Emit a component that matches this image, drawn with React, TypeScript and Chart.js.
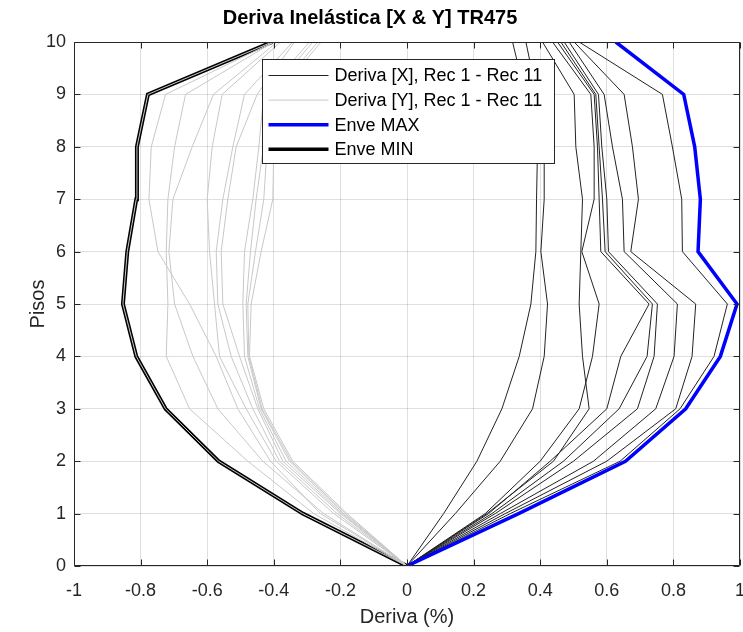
import React, { useEffect, useRef } from 'react';
import { Chart, registerables } from 'chart.js';

Chart.register(...registerables);

// Floors (Pisos)
const floors = [0, 1, 2, 3, 4, 5, 6, 7, 8, 9, 10];

// Deriva [X], Rec 1 - Rec 11 (%)
const xRec1 = [0, 0.11, 0.21, 0.285, 0.337, 0.372, 0.387, 0.389, 0.392, 0.355, 0.317];
const xRec2 = [0, 0.145, 0.28, 0.377, 0.412, 0.422, 0.402, 0.412, 0.412, 0.39, 0.357];
const xRec3 = [0, 0.24, 0.44, 0.547, 0.527, 0.517, 0.522, 0.527, 0.507, 0.502, 0.407];
const xRec4 = [0, 0.235, 0.4, 0.517, 0.557, 0.577, 0.525, 0.562, 0.562, 0.552, 0.437];
const xRec5 = [0, 0.245, 0.43, 0.6, 0.642, 0.727, 0.582, 0.577, 0.572, 0.562, 0.452];
const xRec6 = [0, 0.255, 0.47, 0.637, 0.721, 0.737, 0.595, 0.587, 0.577, 0.567, 0.462];
const xRec7 = [0, 0.265, 0.5, 0.692, 0.742, 0.752, 0.605, 0.6, 0.585, 0.575, 0.472];
const xRec8 = [0, 0.28, 0.56, 0.747, 0.802, 0.812, 0.652, 0.647, 0.617, 0.592, 0.487];
const xRec9 = [0, 0.295, 0.6, 0.807, 0.856, 0.867, 0.672, 0.695, 0.677, 0.652, 0.502];
const xRec10 = [0, 0.31, 0.64, 0.82, 0.922, 0.962, 0.827, 0.825, 0.797, 0.767, 0.517];
const xRec11 = [0, 0.335, 0.656, 0.837, 0.941, 0.991, 0.874, 0.881, 0.864, 0.831, 0.627];

// Deriva [Y], Rec 1 - Rec 11 (%)
const yRec1 = [0, -0.313, -0.566, -0.725, -0.813, -0.853, -0.84, -0.813, -0.811, -0.778, -0.405];
const yRec2 = [0, -0.28, -0.478, -0.653, -0.723, -0.718, -0.723, -0.718, -0.698, -0.665, -0.4];
const yRec3 = [0, -0.26, -0.41, -0.508, -0.573, -0.653, -0.748, -0.775, -0.768, -0.725, -0.4];
const yRec4 = [0, -0.25, -0.433, -0.568, -0.643, -0.698, -0.715, -0.703, -0.645, -0.581, -0.39];
const yRec5 = [0, -0.22, -0.393, -0.483, -0.563, -0.578, -0.593, -0.6, -0.585, -0.555, -0.38];
const yRec6 = [0, -0.21, -0.383, -0.463, -0.528, -0.568, -0.573, -0.553, -0.523, -0.488, -0.343];
const yRec7 = [0, -0.2, -0.373, -0.448, -0.503, -0.553, -0.558, -0.538, -0.513, -0.45, -0.338];
const yRec8 = [0, -0.195, -0.363, -0.443, -0.488, -0.493, -0.488, -0.463, -0.445, -0.43, -0.293];
const yRec9 = [0, -0.19, -0.353, -0.438, -0.478, -0.483, -0.47, -0.453, -0.431, -0.415, -0.283];
const yRec10 = [0, -0.185, -0.348, -0.435, -0.475, -0.478, -0.455, -0.43, -0.42, -0.4, -0.268];
const yRec11 = [0, -0.18, -0.343, -0.43, -0.473, -0.468, -0.438, -0.403, -0.4, -0.39, -0.258];

// Envelopes
const enveMax = [0, 0.335, 0.656, 0.837, 0.941, 0.991, 0.874, 0.881, 0.864, 0.831, 0.627];
const enveMin = [0, -0.313, -0.566, -0.725, -0.813, -0.853, -0.84, -0.813, -0.811, -0.778, -0.405];

const xRecords = [xRec1, xRec2, xRec3, xRec4, xRec5, xRec6, xRec7, xRec8, xRec9, xRec10, xRec11];
const yRecords = [yRec1, yRec2, yRec3, yRec4, yRec5, yRec6, yRec7, yRec8, yRec9, yRec10, yRec11];

const legendLabels = ['Deriva [X], Rec 1 - Rec 11', 'Deriva [Y], Rec 1 - Rec 11', 'Enve MAX', 'Enve MIN'];

const FONT = '"Liberation Sans", Arial, Helvetica, sans-serif';
const AXIS = '#262626';
const X_COLOR = '#222222';
const Y_COLOR = '#c8c8c8';
const MAX_COLOR = '#0000ff';
const MIN_COLOR = '#000000';

const toPoints = (vals: number[]) => vals.map((v, i) => ({ x: v, y: floors[i] }));

const framePlugin = {
  id: 'matlabFrame',
  afterDraw(chart: any) {
    const { ctx, chartArea: a, scales } = chart;
    const xs = scales.x;
    const ys = scales.y;
    ctx.save();
    ctx.strokeStyle = AXIS;
    ctx.lineWidth = 1;
    const L = Math.round(a.left) + 0.5;
    const R = Math.round(a.right) - 0.5;
    const T = Math.round(a.top) + 0.5;
    const B = Math.round(a.bottom) - 0.5;
    ctx.beginPath();
    ctx.rect(L, T, R - L, B - T);
    const tl = 6;
    xs.ticks.forEach((t: any) => {
      const px = Math.round(xs.getPixelForValue(t.value)) + 0.5;
      ctx.moveTo(px, B);
      ctx.lineTo(px, B - tl);
      ctx.moveTo(px, T);
      ctx.lineTo(px, T + tl);
    });
    ys.ticks.forEach((t: any) => {
      const py = Math.round(ys.getPixelForValue(t.value)) + 0.5;
      ctx.moveTo(L, py);
      ctx.lineTo(L + tl, py);
      ctx.moveTo(R, py);
      ctx.lineTo(R - tl, py);
    });
    ctx.stroke();

    // Legend box
    const bx = Math.round(a.left + 188) + 0.5;
    const by = Math.round(a.top + 17) + 0.5;
    const bw = 292;
    const bh = 104;
    ctx.fillStyle = '#ffffff';
    ctx.fillRect(bx, by, bw, bh);
    ctx.strokeStyle = AXIS;
    ctx.lineWidth = 1;
    ctx.strokeRect(bx, by, bw, bh);
    const styles = [
      { c: X_COLOR, w: 1 },
      { c: Y_COLOR, w: 1 },
      { c: MAX_COLOR, w: 3.5 },
      { c: MIN_COLOR, w: 3.5 },
    ];
    ctx.font = `18px ${FONT}`;
    ctx.textBaseline = 'middle';
    ctx.textAlign = 'left';
    legendLabels.forEach((lab, i) => {
      const cy = by + 16 + i * 24.6;
      ctx.beginPath();
      ctx.strokeStyle = styles[i].c;
      ctx.lineWidth = styles[i].w;
      ctx.moveTo(bx + 6, cy);
      ctx.lineTo(bx + 66, cy);
      ctx.stroke();
      ctx.fillStyle = '#000000';
      ctx.fillText(lab, bx + 72, cy + 1);
    });
    ctx.restore();
  },
};

export default function App() {
  const canvasRef = useRef<HTMLCanvasElement | null>(null);

  useEffect(() => {
    if (!canvasRef.current) return;
    const datasets: any[] = [];
    xRecords.forEach((rec, i) => {
      datasets.push({
        label: `X Rec ${i + 1}`,
        data: toPoints(rec),
        showLine: true,
        borderColor: X_COLOR,
        borderWidth: 1,
        pointRadius: 0,
        tension: 0,
        order: 3,
      });
    });
    yRecords.forEach((rec, i) => {
      datasets.push({
        label: `Y Rec ${i + 1}`,
        data: toPoints(rec),
        showLine: true,
        borderColor: Y_COLOR,
        borderWidth: 1,
        pointRadius: 0,
        tension: 0,
        order: 1,
      });
    });
    datasets.push({
      label: 'Enve MAX',
      data: toPoints(enveMax),
      showLine: true,
      borderColor: MAX_COLOR,
      borderWidth: 3.5,
      pointRadius: 0,
      tension: 0,
      order: 0,
    });
    datasets.push({
      label: 'Enve MIN',
      data: toPoints(enveMin),
      showLine: true,
      borderColor: MIN_COLOR,
      borderWidth: 4,
      pointRadius: 0,
      tension: 0,
      order: 2,
    });

    const chart = new Chart(canvasRef.current, {
      type: 'scatter',
      data: { datasets },
      options: {
        animation: false,
        responsive: false,
        events: [],
        layout: { padding: { left: 0, right: 3, top: 0, bottom: 0 } },
        plugins: {
          legend: { display: false },
          tooltip: { enabled: false },
          title: {
            display: true,
            text: 'Deriva Inelástica [X & Y] TR475',
            color: '#000000',
            font: { family: FONT, size: 20, weight: 'bold', lineHeight: 1.2 },
            padding: { top: 6, bottom: 12 },
          },
        },
        scales: {
          x: {
            type: 'linear',
            min: -1,
            max: 1,
            ticks: {
              stepSize: 0.2,
              color: AXIS,
              font: { family: FONT, size: 18, lineHeight: 1.2 },
              padding: 14,
              maxRotation: 0,
              autoSkip: false,
              callback: (v: any) => String(Math.round(Number(v) * 10) / 10),
            },
            grid: { color: 'rgba(38,38,38,0.15)', drawTicks: false },
            border: { display: false },
            title: {
              display: true,
              text: 'Deriva (%)',
              color: AXIS,
              font: { family: FONT, size: 20, lineHeight: 1.2 },
              padding: { top: 0, bottom: 3 },
            },
            afterFit: (s: any) => {
              s.height = 66;
              s.paddingLeft = 0;
              s.paddingRight = 0;
            },
          },
          y: {
            type: 'linear',
            min: 0,
            max: 10,
            ticks: {
              stepSize: 1,
              color: AXIS,
              font: { family: FONT, size: 18, lineHeight: 1.2 },
              padding: 8,
              autoSkip: false,
            },
            grid: { color: 'rgba(38,38,38,0.15)', drawTicks: false },
            border: { display: false },
            title: {
              display: true,
              text: 'Pisos',
              color: AXIS,
              font: { family: FONT, size: 20, lineHeight: 1.2 },
              padding: { top: 26, bottom: 0 },
            },
            afterFit: (s: any) => {
              s.width = 74;
              s.paddingTop = 0;
              s.paddingBottom = 0;
            },
          },
        },
      },
      plugins: [framePlugin],
    });
    return () => chart.destroy();
  }, []);

  return (
    <div style={{ position: 'absolute', left: 0, top: 0, width: 743, height: 632, background: '#fff' }}>
      <canvas ref={canvasRef} width={743} height={632} style={{ display: 'block' }} />
    </div>
  );
}
